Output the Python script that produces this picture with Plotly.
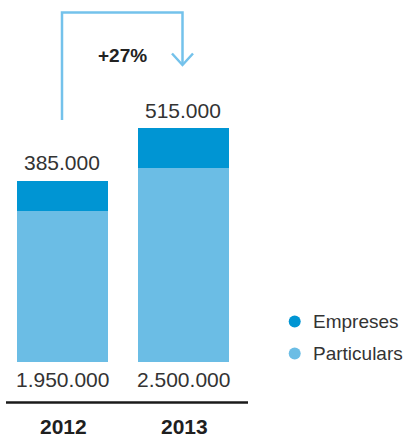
import plotly.graph_objects as go

# Data
years = ["2012", "2013"]
particulars = [1950000, 2500000]
empreses = [385000, 515000]
growth_label = "+27%"

W, H = 406, 437
C_EMP = "#0095D3"
C_PAR = "#6BBDE5"
C_ARROW = "#74C2EB"
TXT = "#333333"
FONT = "Liberation Sans, Arial, sans-serif"


def fmt(v):
    return f"{v:,}".replace(",", ".")


def px(x):
    return x / W


def py(y):
    return 1 - y / H


fig = go.Figure()
fig.add_trace(go.Bar(x=years, y=particulars, name="Particulars",
                     marker=dict(color=C_PAR, line=dict(width=0)), width=0.752))
fig.add_trace(go.Bar(x=years, y=empreses, name="Empreses",
                     marker=dict(color=C_EMP, line=dict(width=0)), width=0.752))

annotations = []
# category positions are given by index so the numeric-looking year strings
# are not read as coordinates
for i, (yr, p, e) in enumerate(zip(years, particulars, empreses)):
    annotations.append(dict(x=i, y=p + e, xref="x", yref="y", text=fmt(e),
                            showarrow=False, yanchor="middle", yshift=18,
                            font=dict(size=21, color=TXT, family=FONT)))
    annotations.append(dict(x=i, y=0, xref="x", yref="y", text=fmt(p),
                            showarrow=False, yanchor="middle", yshift=-18,
                            font=dict(size=21, color=TXT, family=FONT)))
    annotations.append(dict(x=i, y=py(426.5), xref="x", yref="paper",
                            text=f"<b>{yr}</b>", showarrow=False,
                            yanchor="middle", xshift=1,
                            font=dict(size=21, color="#1f1f1f", family=FONT)))

annotations.append(dict(x=px(122), y=py(55), xref="paper", yref="paper",
                        text=f"<b>{growth_label}</b>", showarrow=False,
                        xanchor="center", yanchor="middle",
                        font=dict(size=19, color="#222222", family=FONT)))

# legend entries
legend_items = [("Empreses", C_EMP, 321.5), ("Particulars", C_PAR, 353.5)]
shapes = []
for name, col, yc in legend_items:
    shapes.append(dict(type="circle", xref="paper", yref="paper",
                       x0=px(288.7), x1=px(300.7), y0=py(yc + 6), y1=py(yc - 6),
                       fillcolor=col, line=dict(width=0)))
    annotations.append(dict(x=px(311), y=py(yc), xref="paper", yref="paper",
                            text=name, showarrow=False, xanchor="left",
                            yanchor="middle",
                            font=dict(size=19, color=TXT, family=FONT)))

# baseline
shapes.append(dict(type="line", xref="paper", yref="paper",
                   x0=px(6), x1=px(248), y0=py(402.5), y1=py(402.5),
                   line=dict(color="#1a1a1a", width=2.5)))

# growth arrow
path = (f"M {px(62)} {py(120)} L {px(62)} {py(12.5)} "
        f"L {px(182.5)} {py(12.5)} L {px(182.5)} {py(65)}")
shapes.append(dict(type="path", xref="paper", yref="paper", path=path,
                   line=dict(color=C_ARROW, width=2.5)))
head = (f"M {px(172)} {py(53.5)} L {px(182.5)} {py(65)} L {px(193)} {py(53.5)}")
shapes.append(dict(type="path", xref="paper", yref="paper", path=head,
                   line=dict(color=C_ARROW, width=2.5)))

hidden = dict(showticklabels=False, showgrid=False, zeroline=False,
              showline=False, ticks="", fixedrange=True)
fig.update_layout(
    barmode="stack",
    width=W, height=H,
    margin=dict(l=0, r=0, t=0, b=0),
    paper_bgcolor="white", plot_bgcolor="white",
    showlegend=False,
    xaxis=dict(type="category", range=[-0.5165, 2.839], **hidden),
    yaxis=dict(range=[-976000, 4674000], **hidden),
    annotations=annotations,
    shapes=shapes,
)

fig.write_html("out.html", config={"displayModeBar": False})
